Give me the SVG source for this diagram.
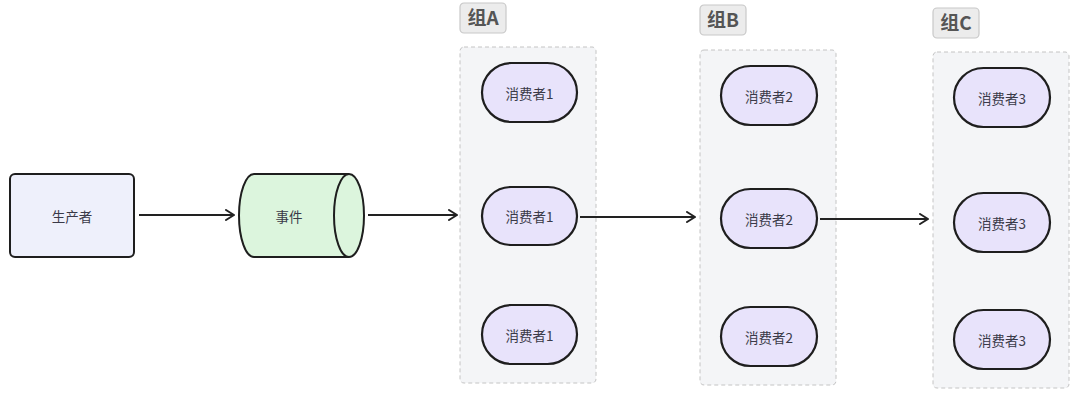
<svg xmlns="http://www.w3.org/2000/svg" width="1080" height="400" viewBox="0 0 1080 400">
<defs>
<style>
.grp{fill:#f4f5f7;stroke:#c4c4c4;stroke-width:1;stroke-dasharray:4 3}
.lblbox{fill:#ececec;stroke:#c8c8c8;stroke-width:1.2}
.lbl{font-family:"Noto Sans CJK SC","Noto Sans",sans-serif;font-size:19px;font-weight:bold;fill:#555;}
.pill{fill:#e8e3fb;stroke:#1e1e1e;stroke-width:2.2}
.t{font-family:"Noto Sans CJK SC","Noto Sans",sans-serif;font-size:13.5px;fill:#3a3a48;text-anchor:middle;dominant-baseline:central}
.edge{fill:none;stroke:#222;stroke-width:2}
</style>
<marker id="arr" viewBox="0 0 10 12" refX="9" refY="6" markerWidth="10" markerHeight="12" markerUnits="userSpaceOnUse" orient="auto">
<path d="M1,1 L9,6 L1,11" fill="none" stroke="#222" stroke-width="2" stroke-linecap="round" stroke-linejoin="round"/>
</marker>
</defs>
<rect width="1080" height="400" fill="#ffffff"/>

<g id="groupA">
<rect class="grp" x="460" y="47" width="136" height="336" rx="4"/>
<rect class="lblbox" x="460" y="3" width="46" height="30" rx="4"/>
<text class="lbl" x="483" y="25" text-anchor="middle">组A</text>
</g>
<g id="groupB">
<rect class="grp" x="700" y="50" width="136" height="335" rx="4"/>
<rect class="lblbox" x="700" y="5" width="46" height="30" rx="4"/>
<text class="lbl" x="723" y="27" text-anchor="middle">组B</text>
</g>
<g id="groupC">
<rect class="grp" x="933" y="52" width="136" height="336" rx="4"/>
<rect class="lblbox" x="933" y="8" width="46" height="30" rx="4"/>
<text class="lbl" x="956" y="30" text-anchor="middle">组C</text>
</g>

<g id="producer">
<rect x="10" y="174" width="124" height="83" rx="5" fill="#eef0fb" stroke="#1e1e1e" stroke-width="2"/>
<text class="t" x="72" y="216">生产者</text>
</g>

<g id="event">
<path d="M254 174 L349 174 A15 41.5 0 0 1 349 257 L254 257 A15 41.5 0 0 1 254 174 Z" fill="#dcf5dd" stroke="#1e1e1e" stroke-width="2"/>
<path d="M349 174 A15 41.5 0 0 0 349 257" fill="none" stroke="#1e1e1e" stroke-width="2"/>
<text class="t" x="289" y="216">事件</text>
</g>

<g id="a1"><rect class="pill" x="482" y="63" width="95" height="59" rx="29.5"/><text class="t" x="529.5" y="93">消费者1</text></g>
<g id="a2"><rect class="pill" x="482" y="187" width="95" height="58" rx="29"/><text class="t" x="529.5" y="216">消费者1</text></g>
<g id="a3"><rect class="pill" x="482" y="305" width="95" height="59" rx="29.5"/><text class="t" x="529.5" y="334.5">消费者1</text></g>

<g id="b1"><rect class="pill" x="721" y="66" width="96" height="59" rx="29.5"/><text class="t" x="769" y="96">消费者2</text></g>
<g id="b2"><rect class="pill" x="721" y="189" width="96" height="59" rx="29.5"/><text class="t" x="769" y="219">消费者2</text></g>
<g id="b3"><rect class="pill" x="721" y="307" width="96" height="59" rx="29.5"/><text class="t" x="769" y="337">消费者2</text></g>

<g id="c1"><rect class="pill" x="954" y="68" width="96" height="59" rx="29.5"/><text class="t" x="1002" y="98">消费者3</text></g>
<g id="c2"><rect class="pill" x="954" y="193" width="96" height="59" rx="29.5"/><text class="t" x="1002" y="223">消费者3</text></g>
<g id="c3"><rect class="pill" x="954" y="310" width="96" height="59" rx="29.5"/><text class="t" x="1002" y="340">消费者3</text></g>

<g id="connectors">
<line class="edge" x1="139" y1="215" x2="234" y2="215" marker-end="url(#arr)"/>
<line class="edge" x1="368" y1="215" x2="457" y2="215" marker-end="url(#arr)"/>
<line class="edge" x1="580" y1="217" x2="695" y2="217" marker-end="url(#arr)"/>
<line class="edge" x1="820" y1="219" x2="928" y2="219" marker-end="url(#arr)"/>
</g>
</svg>
